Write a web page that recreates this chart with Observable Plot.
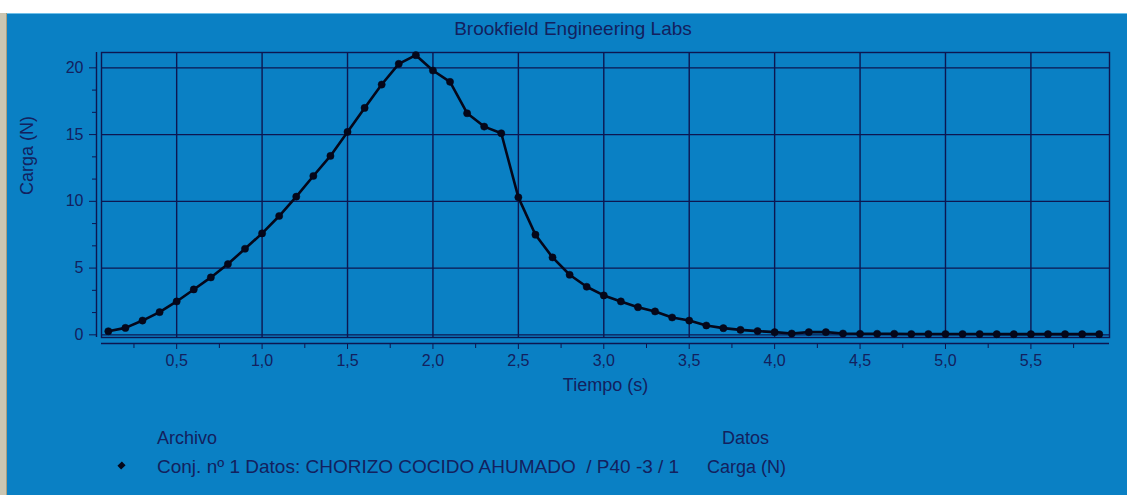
<!DOCTYPE html>
<html>
<head>
<meta charset="utf-8">
<script src="https://cdn.jsdelivr.net/npm/d3@7"></script>
<script src="https://cdn.jsdelivr.net/npm/@observablehq/plot@0.6"></script>
<style>
  html, body { margin: 0; padding: 0; background: #ffffff; width: 1127px; height: 495px; overflow: hidden; }
  body { font-family: "Liberation Sans", Arial, sans-serif; color: #13215e; }
  #strip { position: absolute; left: 0; top: 13px; width: 6px; height: 482px; background: #cbc6b2; border-right: 1px solid #a89f80; }
  #panel { position: absolute; left: 7px; top: 13px; width: 1120px; height: 482px; background: #0a80c4; border-top: 1px solid #6fc0ea; box-sizing: border-box; }
  .t { position: absolute; white-space: pre; line-height: 18px; }
  #chart { position: absolute; left: 0; top: 40px; }
  #diamond { position: absolute; left: 119px; top: 463px; width: 5px; height: 5px; background: #05071a; transform: rotate(45deg) scale(1.05, 1.25); }
</style>
</head>
<body>
<div id="strip"></div>
<div id="panel"></div>
<div class="t" id="title" style="top:20px; left:0; width:1146px; text-align:center; font-size:19px;"></div>
<div id="chart"></div>
<div class="t" id="legHead1" style="top:429px; left:157px; font-size:18px;"></div>
<div class="t" id="legHead2" style="top:429px; left:722px; font-size:18px;"></div>
<div id="diamond"></div>
<div class="t" id="series" style="top:458px; left:157px; font-size:19px;"></div>
<div class="t" id="seriesData" style="top:458px; left:707px; font-size:18px;"></div>
<script>
// ---- data ----
const times = [0.1,0.2,0.3,0.4,0.5,0.6,0.7,0.8,0.9,1.0,
               1.1,1.2,1.3,1.4,1.5,1.6,1.7,1.8,1.9,2.0,
               2.1,2.2,2.3,2.4,2.5,2.6,2.7,2.8,2.9,3.0,
               3.1,3.2,3.3,3.4,3.5,3.6,3.7,3.8,3.9,4.0,
               4.1,4.2,4.3,4.4,4.5,4.6,4.7,4.8,4.9,5.0,
               5.1,5.2,5.3,5.4,5.5,5.6,5.7,5.8,5.9];
const loads = [0.27,0.52,1.07,1.7,2.5,3.4,4.3,5.3,6.45,7.6,
               8.9,10.35,11.9,13.4,15.2,17.0,18.75,20.3,20.95,19.8,
               18.95,16.6,15.6,15.1,10.3,7.5,5.8,4.5,3.6,2.95,
               2.5,2.07,1.75,1.3,1.07,0.7,0.5,0.37,0.28,0.2,
               0.1,0.2,0.2,0.1,0.08,0.08,0.08,0.06,0.06,0.06,
               0.06,0.06,0.05,0.05,0.05,0.05,0.05,0.05,0.05];
const xTicks = [0.5,1.0,1.5,2.0,2.5,3.0,3.5,4.0,4.5,5.0,5.5];
const xTickLabels = ["0,5","1,0","1,5","2,0","2,5","3,0","3,5","4,0","4,5","5,0","5,5"];
const xMinorTicks = [0.25,0.75,1.25,1.75,2.25,2.75,3.25,3.75,4.25,4.75,5.25,5.75];
const yTicks = [0,5,10,15,20];
const yTickLabels = ["0","5","10","15","20"];
const yMinorTicks = [1.667,3.333,6.667,8.333,11.667,13.333,16.667,18.333];
const xDomain = [0.06, 5.96];
const yDomain = [-0.2, 21.15];
const title = "Brookfield Engineering Labs";
const xLabel = "Tiempo (s)";
const yLabel = "Carga (N)";
const legendHeaders = ["Archivo", "Datos"];
const seriesName = "Conj. nº 1 Datos: CHORIZO COCIDO AHUMADO  / P40 -3 / 1";
const seriesField = "Carga (N)";

// ---- chart ----
const data = times.map((t, i) => ({t, v: loads[i]}));
const GRID = "#0d1650";
const INK = "#05071a";
const TEXT = "#13215e";

const chart = Plot.plot({
  width: 1127,
  height: 360,
  marginLeft: 101,
  marginRight: 18,
  marginTop: 12,
  marginBottom: 63,
  style: {background: "transparent", color: GRID, fontFamily: "'Liberation Sans', Arial, sans-serif", fontSize: "16px", overflow: "visible"},
  x: {domain: xDomain},
  y: {domain: yDomain},
  marks: [
    Plot.ruleX(xTicks, {stroke: GRID, strokeWidth: 1.4}),
    Plot.ruleY(yTicks, {stroke: GRID, strokeWidth: 1.4}),
    Plot.frame({stroke: GRID, strokeWidth: 1.4}),
    Plot.ruleX([xDomain[0]], {dx: -5, stroke: GRID, strokeWidth: 1.4}),
    Plot.ruleY([yDomain[0]], {dy: 6, stroke: GRID, strokeWidth: 1.4}),
    Plot.axisX({ticks: xTicks, tickSize: 6, dy: 6, tickPadding: 5, stroke: GRID, fill: TEXT,
      tickFormat: d => xTickLabels[xTicks.indexOf(d)], label: null, fontSize: 16}),
    Plot.axisX({ticks: xMinorTicks, tickSize: 5, dy: 6, stroke: GRID, tickFormat: () => "", label: null}),
    Plot.axisY({ticks: yTicks, tickSize: 7, dx: -5, tickPadding: 6, stroke: GRID, fill: TEXT,
      tickFormat: d => yTickLabels[yTicks.indexOf(d)], label: null, fontSize: 16}),
    Plot.axisY({ticks: yMinorTicks, tickSize: 4, dx: -5, stroke: GRID, tickFormat: () => "", label: null}),
    Plot.line(data, {x: "t", y: "v", stroke: INK, strokeWidth: 2.6}),
    Plot.dot(data, {x: "t", y: "v", symbol: "circle", r: 3.6, fill: INK, stroke: INK, strokeWidth: 0.5}),
    Plot.text([xLabel], {frameAnchor: "bottom", dy: 53, fill: TEXT, fontSize: 18}),
    Plot.text([yLabel], {frameAnchor: "left", dx: -74, rotate: -90, fill: TEXT, fontSize: 18})
  ]
});
document.getElementById("chart").appendChild(chart);
document.getElementById("title").textContent = title;
document.getElementById("legHead1").textContent = legendHeaders[0];
document.getElementById("legHead2").textContent = legendHeaders[1];
document.getElementById("series").textContent = seriesName;
document.getElementById("seriesData").textContent = seriesField;
</script>
</body>
</html>
